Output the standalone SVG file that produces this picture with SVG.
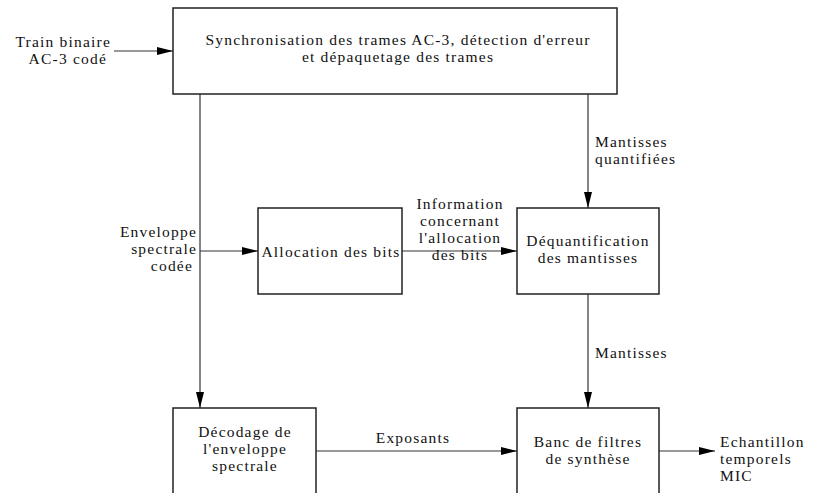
<svg xmlns="http://www.w3.org/2000/svg" width="813" height="493" viewBox="0 0 813 493" font-family="'Liberation Serif', 'DejaVu Serif', serif">
<style>
.box{fill:#fff;stroke:#222;stroke-width:1.5}
.c{fill:none;stroke:#333;stroke-width:1.2}
text{font-family:'Liberation Serif','DejaVu Serif',serif;font-size:15.5px;letter-spacing:1.2px;fill:#111}
.m{text-anchor:middle}
.e{text-anchor:end}
</style>
<defs>
<marker id="ar" markerWidth="16" markerHeight="8" refX="16" refY="4" orient="auto" markerUnits="userSpaceOnUse">
<path d="M0,0 L16,4 L0,8 Z" fill="#000"/>
</marker>
</defs>
<rect width="813" height="493" fill="#fff"/>
<g id="connectors">
<line class="c" x1="114" y1="51" x2="173" y2="51" marker-end="url(#ar)"/>
<line class="c" x1="200" y1="94" x2="200" y2="408" marker-end="url(#ar)"/>
<line class="c" x1="200" y1="251" x2="258" y2="251" marker-end="url(#ar)"/>
<line class="c" x1="402" y1="251" x2="517" y2="251" marker-end="url(#ar)"/>
<line class="c" x1="588" y1="94" x2="588" y2="208" marker-end="url(#ar)"/>
<line class="c" x1="588" y1="294" x2="588" y2="408" marker-end="url(#ar)"/>
<line class="c" x1="316" y1="451" x2="517" y2="451" marker-end="url(#ar)"/>
<line class="c" x1="659" y1="451" x2="715" y2="451" marker-end="url(#ar)"/>
<text class="e" x="111" y="47">Train binaire</text>
<text class="e" x="107" y="64">AC-3 codé</text>
<text x="595" y="147">Mantisses</text>
<text x="595" y="164">quantifiées</text>
<text class="e" x="197" y="237">Enveloppe</text>
<text class="e" x="197" y="254">spectrale</text>
<text class="e" x="193" y="271">codée</text>
<text class="m" x="460" y="209">Information</text>
<text class="m" x="460" y="226">concernant</text>
<text class="m" x="460" y="243">l'allocation</text>
<text class="m" x="460" y="260">des bits</text>
<text x="595" y="358">Mantisses</text>
<text class="m" x="413" y="443">Exposants</text>
<text x="720" y="447">Echantillon</text>
<text x="720" y="464">temporels</text>
<text x="720" y="481">MIC</text>
</g>
<g id="sync">
<rect class="box" x="173" y="8" width="444" height="86"/>
<text class="m" x="398" y="45">Synchronisation des trames AC-3, détection d'erreur</text>
<text class="m" x="398" y="62">et dépaquetage des trames</text>
</g>
<g id="allocation">
<rect class="box" x="258" y="208" width="144" height="86"/>
<text class="m" x="331" y="257">Allocation des bits</text>
</g>
<g id="dequant">
<rect class="box" x="517" y="208" width="142" height="86"/>
<text class="m" x="588" y="246">Déquantification</text>
<text class="m" x="588" y="263">des mantisses</text>
</g>
<g id="decodage">
<rect class="box" x="173" y="408" width="143" height="100"/>
<text class="m" x="245" y="437">Décodage de</text>
<text class="m" x="245" y="454">l'enveloppe</text>
<text class="m" x="245" y="471">spectrale</text>
</g>
<g id="banc">
<rect class="box" x="517" y="408" width="142" height="100"/>
<text class="m" x="588" y="447">Banc de filtres</text>
<text class="m" x="588" y="464">de synthèse</text>
</g>
</svg>
